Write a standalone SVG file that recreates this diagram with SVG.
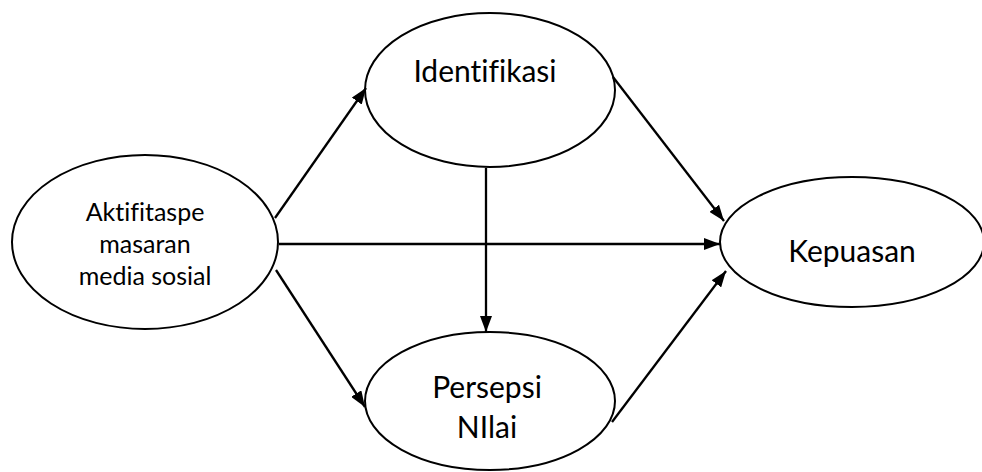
<svg xmlns="http://www.w3.org/2000/svg" width="982" height="472" viewBox="0 0 982 472">
<style>
.node ellipse{fill:#fff;stroke:#000;stroke-width:2}
.lbl{font-family:Lato,"Liberation Sans",sans-serif;fill:#000;text-anchor:middle;font-variant-ligatures:none;font-feature-settings:"liga" 0}
.edges line{stroke:#000;stroke-width:2.3;marker-end:url(#ah)}
</style>
<defs>
<marker id="ah" viewBox="0 0 16 12" refX="16" refY="6" markerWidth="16" markerHeight="12" markerUnits="userSpaceOnUse" orient="auto">
<path d="M0,0 L16,6 L0,12 Z" fill="#000"/>
</marker>
</defs>
<rect width="982" height="472" fill="#fff"/>
<g id="aktifitas" class="node">
<ellipse cx="145" cy="242" rx="133" ry="87"/>
<text class="lbl" font-size="25" x="145" y="221">Aktifitaspe</text>
<text class="lbl" font-size="25" x="145" y="253">masaran</text>
<text class="lbl" font-size="25" x="145" y="285">media sosial</text>
</g>
<g id="identifikasi" class="node">
<ellipse cx="490" cy="90" rx="125" ry="77"/>
<text class="lbl" font-size="30" x="485" y="82">Identifikasi</text>
</g>
<g id="persepsi" class="node">
<ellipse cx="490" cy="401" rx="125" ry="69"/>
<text class="lbl" font-size="30" x="487" y="398">Persepsi</text>
<text class="lbl" font-size="30" x="487" y="438">NIlai</text>
</g>
<g id="kepuasan" class="node">
<ellipse cx="852" cy="242" rx="132" ry="65"/>
<text class="lbl" font-size="30" x="852" y="262">Kepuasan</text>
</g>
<g id="connectors" class="edges">
<line x1="275" y1="218" x2="366" y2="88"/>
<line x1="276" y1="270" x2="365" y2="407"/>
<line x1="279" y1="244" x2="720" y2="244"/>
<line x1="486" y1="168" x2="486" y2="332"/>
<line x1="613" y1="77" x2="724" y2="221"/>
<line x1="612" y1="422" x2="726" y2="271"/>
</g>
</svg>
